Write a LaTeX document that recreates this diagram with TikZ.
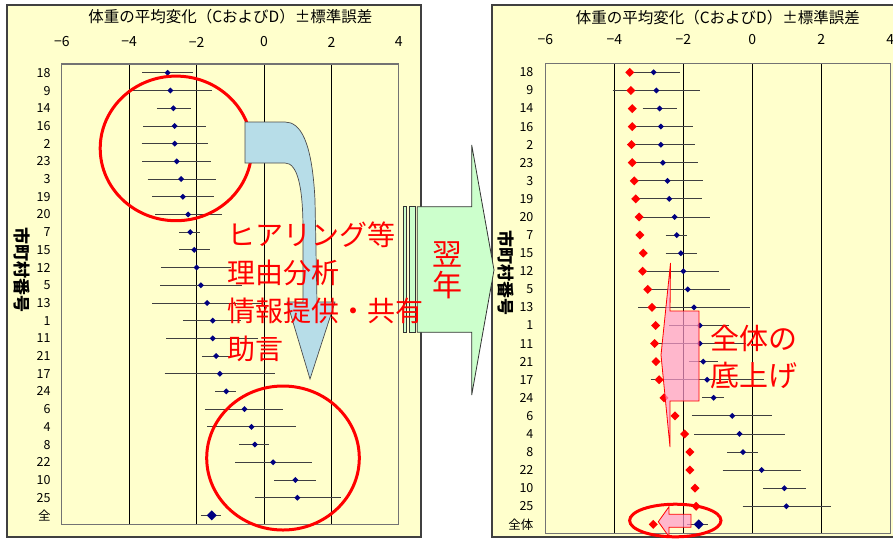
\documentclass[tikz,border=0pt]{standalone}
\usepackage{fontspec}
\setmainfont{Noto Sans CJK JP}

\definecolor{chartbg}{HTML}{FFFFCC}
\definecolor{meanblue}{HTML}{000080}
\definecolor{arrowblue}{HTML}{B7DDE8}
\definecolor{arrowgreen}{HTML}{CCFFCC}
\definecolor{raisepink}{HTML}{FF99CC}

\newcommand{\weightrows}{18/-2.86/-3.62/-2.10/-3.55, 9/-2.78/-4.05/-1.53/-3.52,
  14/-2.69/-3.18/-2.17/-3.48, 16/-2.65/-3.58/-1.73/-3.48, 2/-2.65/-3.63/-1.65/-3.50,
  23/-2.59/-3.61/-1.57/-3.48, 3/-2.46/-3.45/-1.43/-3.42, 19/-2.41/-3.31/-1.47/-3.38,
  20/-2.25/-3.23/-1.24/-3.28, 7/-2.19/-2.51/-1.90/-3.26, 15/-2.07/-2.51/-1.60/-3.16,
  12/-2.00/-3.06/-0.97/-3.18, 5/-1.87/-3.08/-0.64/-3.03, 13/-1.69/-3.31/-0.06/-2.91,
  1/-1.52/-2.41/-0.67/-2.80, 11/-1.52/-2.90/-0.19/-2.83, 21/-1.42/-1.84/-1.00/-2.79,
  17/-1.31/-2.95/0.34/-2.70, 24/-1.12/-1.45/-0.83/-2.56, 6/-0.58/-1.75/0.56/-2.24,
  4/-0.37/-1.69/0.94/-1.96, 8/-0.27/-0.73/0.16/-1.81, 22/0.27/-0.86/1.41/-1.81,
  10/0.93/0.31/1.55/-1.66, 25/0.99/-0.28/2.27/-1.63}

\tikzset{
  panel/.style={draw=black!75, line width=1.2pt, fill=chartbg},
  plotframe/.style={draw=black!55, line width=1.2pt},
  gridline/.style={black, line width=0.8pt},
  errbar/.style={black!75, line width=0.9pt},
  ticklab/.style={font=\fontsize{14}{16}\selectfont},
  rowlab/.style={anchor=east, inner sep=0pt, font=\fontsize{12.5}{14}\selectfont},
  axtitle/.style={font=\fontsize{15.5}{18}\selectfont},
  ylab/.style={rotate=-90, inner sep=0pt, font=\fontsize{17}{19}\selectfont\bfseries},
  ring/.style={red, line width=3pt},
  note/.style={red, inner sep=0pt, align=left},
  raise/.style={draw=red, line width=0.8pt, fill=raisepink, fill opacity=0.7},
}

\begin{document}
\begin{tikzpicture}[x=1pt, y=-1pt]
    \fill[white] (0,0) rectangle (893,539);
    \useasboundingbox (0,0) rectangle (893,539);
    \draw[panel] (7,5) rectangle (421,537);
    \draw[panel] (492,5) rectangle (896,537);

    \begin{scope}[shift={(264,64)}, x=33.7pt, y=-17.7pt]
        \node[axtitle, yshift=47pt] (titleL) at (-1,0) {体重の平均変化（CおよびD）±標準誤差};
        \foreach \v/\t [count=\k] in {-6/−6, -4/−4, -2/−2, 0/0, 2/2, 4/4}
            \node[ticklab, yshift=22pt] (tickL\k) at (\v,0) {\t};
        \foreach \v in {-4,-2,0,2}
            \draw[gridline] (\v,0) -- (\v,26);
        \draw[plotframe] (-6,0) rectangle (4,26);
        \foreach \lab/\m/\lo/\hi/\r [count=\i from 0] in \weightrows {
            \node[rowlab, xshift=-11pt] (rowL\i) at (-6,\i+0.5) {\lab};
            \draw[errbar] (\lo,\i+0.5) -- (\hi,\i+0.5);
            \fill[meanblue] (\m,\i+0.5) +(0pt,3pt) -- +(3pt,0pt) -- +(0pt,-3pt) -- +(-3pt,0pt) -- cycle;
        }
        \node[rowlab, xshift=-11pt] (rowL25) at (-6,25.5) {全};
        \draw[errbar] (-1.88,25.5) -- (-1.27,25.5);
        \fill[meanblue] (-1.55,25.5) +(0pt,5pt) -- +(5pt,0pt) -- +(0pt,-5pt) -- +(-5pt,0pt) -- cycle;
    \end{scope}

    \begin{scope}[shift={(752.3,63.3)}, x=34.5pt, y=-18.08pt]
        \node[axtitle, yshift=46pt] (titleR) at (-1,0) {体重の平均変化（CおよびD）±標準誤差};
        \foreach \v/\t [count=\k] in {-6/−6, -4/−4, -2/−2, 0/0, 2/2, 4/4}
            \node[ticklab, yshift=24pt] (tickR\k) at (\v,0) {\t};
        \foreach \v in {-4,-2,0,2}
            \draw[gridline] (\v,0) -- (\v,26);
        \draw[plotframe] (-6,0) rectangle (4,26);
        \foreach \lab/\m/\lo/\hi/\r [count=\i from 0] in \weightrows {
            \node[rowlab, xshift=-11.7pt] (rowR\i) at (-6,\i+0.5) {\lab};
            \draw[errbar] (\lo,\i+0.5) -- (\hi,\i+0.5);
            \fill[meanblue] (\m,\i+0.5) +(0pt,3pt) -- +(3pt,0pt) -- +(0pt,-3pt) -- +(-3pt,0pt) -- cycle;
            \fill[red] (\r,\i+0.5) +(0pt,4.5pt) -- +(4.5pt,0pt) -- +(0pt,-4.5pt) -- +(-4.5pt,0pt) -- cycle;
        }
        \node[rowlab, xshift=-11.7pt] (rowR25) at (-6,25.5) {全体};
        \draw[errbar] (-1.88,25.5) -- (-1.27,25.5);
        \fill[meanblue] (-1.55,25.5) +(0pt,5pt) -- +(5pt,0pt) -- +(0pt,-5pt) -- +(-5pt,0pt) -- cycle;
        \fill[red] (-2.87,25.5) +(0pt,4.5pt) -- +(4.5pt,0pt) -- +(0pt,-4.5pt) -- +(-4.5pt,0pt) -- cycle;
    \end{scope}

    \node[ylab] (ylabL) at (21.5,270) {市町村番号};
    \node[ylab] (ylabR) at (505.5,273) {市町村番号};

    \draw[ring] (176,148.4) ellipse [x radius=75.8pt, y radius=72.3pt];
    \draw[ring] (283,458) ellipse [x radius=76.3pt, y radius=72pt];

    \draw[black!70, line width=0.7pt, fill=arrowblue] (245,122) -- (285,122)
        .. controls (300,122) and (312,140) .. (315,200) -- (317,302) -- (335,302)
        -- (310,379) -- (287,302) -- (303,302) -- (303,230)
        .. controls (303,185) and (297,163) .. (285,163) -- (245,163) -- cycle;

    \draw[black!80, line width=0.8pt, fill=arrowgreen] (403.3,206.7) rectangle (406.7,332.3);
    \draw[black!80, line width=0.8pt, fill=arrowgreen] (409,206.7) rectangle (415,332.3);
    \draw[black!80, line width=0.8pt, fill=arrowgreen] (417.3,206.7) -- (471.7,206.7) -- (471.7,145)
        -- (494,270) -- (471.7,395) -- (471.7,332.3) -- (417.3,332.3) -- cycle;

    \draw[raise] (670.5,263) -- (661,355) -- (670,447) -- (670,401) -- (699,401) -- (699,311) -- (670,311) -- cycle;
    \draw[raise] (669,506.7) -- (658.3,521.7) -- (669,536.7) -- (669,527.3) -- (691,527.3) -- (691,514.3) -- (669,514.3) -- cycle;
    \draw[ring] (675.3,520.5) ellipse [x radius=45.7pt, y radius=16.3pt];

    \node[note, anchor=north west, font=\fontsize{28}{38}\selectfont] (hearing) at (227,222)
        {ヒアリング等\\理由分析\\情報提供・共有\\助言};
    \node[note, align=center, font=\fontsize{30}{31}\selectfont] (nextyear) at (447,270) {翌\\年};
    \node[note, anchor=north west, font=\fontsize{29}{37}\selectfont] (lift) at (710,325) {全体の\\底上げ};
\end{tikzpicture}
\end{document}
